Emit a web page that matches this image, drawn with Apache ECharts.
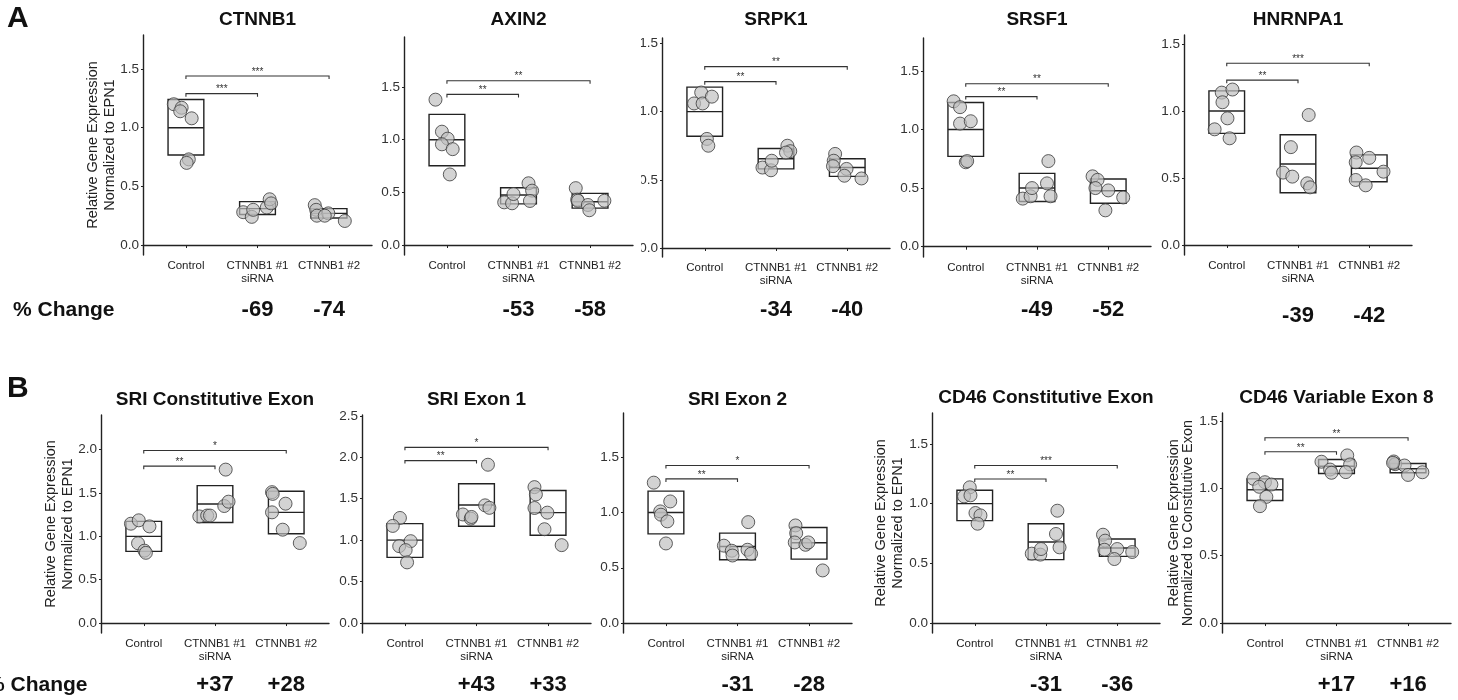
<!DOCTYPE html>
<html><head><meta charset="utf-8">
<script src="https://cdn.jsdelivr.net/npm/echarts@6/dist/echarts.min.js"></script>
<style>html,body{margin:0;padding:0;background:#fff}#c{width:1458px;height:700px}</style>
</head><body><div id="c"></div>
<script>
// ---------------- DATA ----------------
const categories = ['Control', 'CTNNB1 #1\nsiRNA', 'CTNNB1 #2'];
const panelTitles = ['CTNNB1', 'AXIN2', 'SRPK1', 'SRSF1', 'HNRNPA1',
  'SRI Constitutive Exon', 'SRI Exon 1', 'SRI Exon 2', 'CD46 Constitutive Exon', 'CD46 Variable Exon 8'];
const yNameEPN1 = 'Relative Gene Expression\nNormalized to EPN1';
const yNameConst = 'Relative Gene Expression\nNormalized to Constitutive Exon';
const yTicks15 = [0, 0.5, 1.0, 1.5];
const yTicks20 = [0, 0.5, 1.0, 1.5, 2.0];
const yTicks25 = [0, 0.5, 1.0, 1.5, 2.0, 2.5];

// per panel: values per group [Control, #1, #2], horizontal jitter per point, box [low, mid, high], significance [label, y], % change
const ctnnb1Vals = [[1.20,1.17,1.14,1.08,0.73,0.70],[0.28,0.24,0.30,0.32,0.39,0.355],[0.34,0.30,0.25,0.27,0.25,0.205]];
const ctnnb1Jit  = [[-0.17,-0.06,-0.08,0.08,0.04,0.01],[-0.2,-0.08,-0.06,0.13,0.17,0.19],[-0.2,-0.18,-0.17,-0.01,-0.06,0.22]];
const ctnnb1Box  = [[0.767,1.0,1.24],[0.26,0.31,0.37],[0.23,0.27,0.31]];
const ctnnb1Sig  = [['***',1.29],['***',1.44]];
const ctnnb1Pct  = [-69,-74];

const axin2Vals = [[1.38,1.076,1.01,0.956,0.91,0.67],[0.405,0.396,0.484,0.586,0.516,0.418],[0.54,0.43,0.42,0.38,0.33,0.42]];
const axin2Jit  = [[-0.16,-0.07,0.01,-0.07,0.08,0.04],[-0.2,-0.09,-0.07,0.14,0.19,0.16],[-0.2,-0.18,-0.17,-0.03,-0.01,0.2]];
const axin2Box  = [[0.753,1.0,1.24],[0.39,0.475,0.544],[0.35,0.41,0.49]];
const axin2Sig  = [['**',1.43],['**',1.56]];
const axin2Pct  = [-53,-58];

const srpk1Vals = [[1.06,1.14,1.06,1.11,0.80,0.75],[0.59,0.57,0.64,0.75,0.71,0.70],[0.69,0.64,0.60,0.58,0.53,0.51]];
const srpk1Jit  = [[-0.15,-0.05,-0.03,0.1,0.03,0.05],[-0.19,-0.07,-0.06,0.16,0.2,0.14],[-0.17,-0.19,-0.2,-0.01,-0.04,0.2]];
const srpk1Box  = [[0.82,1.0,1.18],[0.58,0.655,0.73],[0.525,0.59,0.655]];
const srpk1Sig  = [['**',1.22],['**',1.33]];
const srpk1Pct  = [-34,-40];

const srsf1Vals = [[1.24,1.19,1.05,1.07,0.72,0.73],[0.41,0.43,0.50,0.54,0.43,0.73],[0.60,0.57,0.50,0.48,0.42,0.31]];
const srsf1Jit  = [[-0.17,-0.08,-0.08,0.07,0.0,0.02],[-0.2,-0.09,-0.07,0.14,0.19,0.16],[-0.22,-0.15,-0.18,0.0,0.21,-0.04]];
const srsf1Box  = [[0.77,1.0,1.23],[0.385,0.50,0.625],[0.37,0.477,0.577]];
const srsf1Sig  = [['**',1.28],['**',1.39]];
const srsf1Pct  = [-49,-52];

const hnrnpa1Vals = [[1.137,1.16,1.065,0.945,0.863,0.796],[0.97,0.73,0.54,0.51,0.46,0.43],[0.69,0.617,0.65,0.547,0.485,0.445]];
const hnrnpa1Jit  = [[-0.07,0.08,-0.06,0.01,-0.17,0.04],[0.15,-0.1,-0.21,-0.08,0.13,0.17],[-0.18,-0.19,0.0,0.2,-0.19,-0.05]];
const hnrnpa1Box  = [[0.833,1.0,1.15],[0.39,0.604,0.823],[0.472,0.572,0.672]];
const hnrnpa1Sig  = [['**',1.23],['***',1.356]];
const hnrnpa1Pct  = [-39,-42];

const sriConVals = [[1.146,1.185,1.115,0.92,0.835,0.81],[1.23,1.24,1.24,1.35,1.40,1.77],[1.51,1.49,1.377,1.277,1.077,0.923]];
const sriConJit  = [[-0.18,-0.07,0.08,-0.08,0.01,0.03],[-0.22,-0.11,-0.07,0.13,0.19,0.15],[-0.2,-0.19,-0.01,-0.2,-0.05,0.19]];
const sriConBox  = [[0.827,1.0,1.173],[1.16,1.373,1.585],[1.03,1.277,1.52]];
const sriConSig  = [['**',1.81],['*',1.99]];
const sriConPct  = [37,28];

const sriEx1Vals = [[1.268,1.172,0.928,0.988,0.88,0.732],[1.31,1.26,1.28,1.42,1.39,1.91],[1.64,1.552,1.388,1.332,1.132,0.94]];
const sriEx1Jit  = [[-0.07,-0.17,-0.08,0.08,0.01,0.03],[-0.19,-0.08,-0.07,0.12,0.18,0.16],[-0.19,-0.17,-0.19,-0.01,-0.05,0.19]];
const sriEx1Box  = [[0.792,1.0,1.2],[1.168,1.424,1.68],[1.06,1.332,1.6]];
const sriEx1Sig  = [['**',1.96],['*',2.12]];
const sriEx1Pct  = [43,33];

const sriEx2Vals = [[1.27,1.10,1.01,0.98,0.92,0.72],[0.70,0.654,0.611,0.913,0.663,0.627],[0.883,0.813,0.729,0.708,0.729,0.476]];
const sriEx2Jit  = [[-0.17,0.06,-0.08,-0.07,0.02,0.0],[-0.19,-0.08,-0.07,0.15,0.14,0.19],[-0.19,-0.18,-0.2,-0.05,-0.01,0.19]];
const sriEx2Box  = [[0.807,1.0,1.193],[0.572,0.693,0.813],[0.578,0.726,0.864]];
const sriEx2Sig  = [['**',1.304],['*',1.425]];
const sriEx2Pct  = [-31,-28];

const cd46ConVals = [[1.137,1.061,1.07,0.922,0.902,0.832],[0.581,0.573,0.62,0.746,0.634,0.941],[0.74,0.69,0.614,0.62,0.536,0.595]];
const cd46ConJit  = [[-0.07,-0.15,-0.06,0.01,0.08,0.04],[-0.2,-0.08,-0.07,0.14,0.19,0.16],[-0.2,-0.17,-0.18,0.0,-0.04,0.21]];
const cd46ConBox  = [[0.858,1.0,1.112],[0.531,0.679,0.832],[0.558,0.628,0.704]];
const cd46ConSig  = [['**',1.207],['***',1.32]];
const cd46ConPct  = [-31,-36];

const cd46VarVals = [[1.071,1.046,1.012,1.029,0.937,0.868],[1.198,1.14,1.116,1.245,1.178,1.121],[1.20,1.18,1.17,1.10,1.12,1.19]];
const cd46VarJit  = [[-0.16,0.0,-0.08,0.09,0.02,-0.07],[-0.21,-0.09,-0.07,0.15,0.19,0.13],[-0.2,-0.18,-0.05,0.0,0.2,-0.21]];
const cd46VarBox  = [[0.91,0.99,1.071],[1.111,1.165,1.215],[1.116,1.146,1.185]];
const cd46VarSig  = [['**',1.272],['**',1.376]];
const cd46VarPct  = [17,16];

// ---------------- PANELS ----------------
const panels = [
  {vals: ctnnb1Vals, jit: ctnnb1Jit, box: ctnnb1Box, sig: ctnnb1Sig, pct: ctnnb1Pct, yMin: -0.085, yMax: 1.79, ticks: yTicks15, yName: yNameEPN1},
  {vals: axin2Vals, jit: axin2Jit, box: axin2Box, sig: axin2Sig, pct: axin2Pct, yMin: -0.095, yMax: 1.975, ticks: yTicks15},
  {vals: srpk1Vals, jit: srpk1Jit, box: srpk1Box, sig: srpk1Sig, pct: srpk1Pct, yMin: -0.066, yMax: 1.54, ticks: yTicks15},
  {vals: srsf1Vals, jit: srsf1Jit, box: srsf1Box, sig: srsf1Sig, pct: srsf1Pct, yMin: -0.088, yMax: 1.78, ticks: yTicks15},
  {vals: hnrnpa1Vals, jit: hnrnpa1Jit, box: hnrnpa1Box, sig: hnrnpa1Sig, pct: hnrnpa1Pct, yMin: -0.075, yMax: 1.567, ticks: yTicks15},
  {vals: sriConVals, jit: sriConJit, box: sriConBox, sig: sriConSig, pct: sriConPct, yMin: -0.115, yMax: 2.40, ticks: yTicks20, yName: yNameEPN1},
  {vals: sriEx1Vals, jit: sriEx1Jit, box: sriEx1Box, sig: sriEx1Sig, pct: sriEx1Pct, yMin: -0.12, yMax: 2.51, ticks: yTicks25},
  {vals: sriEx2Vals, jit: sriEx2Jit, box: sriEx2Box, sig: sriEx2Sig, pct: sriEx2Pct, yMin: -0.09, yMax: 1.90, ticks: yTicks15},
  {vals: cd46ConVals, jit: cd46ConJit, box: cd46ConBox, sig: cd46ConSig, pct: cd46ConPct, yMin: -0.084, yMax: 1.76, ticks: yTicks15, yName: yNameEPN1},
  {vals: cd46VarVals, jit: cd46VarJit, box: cd46VarBox, sig: cd46VarSig, pct: cd46VarPct, yMin: -0.074, yMax: 1.56, ticks: yTicks15, yName: yNameConst}
];

// ---------------- LAYOUT ----------------
const layout = [
  {left:143, top:35, width:229, height:220, titleY:20, pctOff:55, nameGap:25, nameLH:17},
  {left:404, top:37, width:229, height:218, titleY:20, pctOff:55},
  {left:662, top:38, width:228, height:219, titleY:20, pctOff:53},
  {left:923, top:38, width:228, height:219, titleY:20, pctOff:53},
  {left:1184, top:35, width:228, height:220, titleY:20, pctOff:61},
  {left:101, top:415, width:228, height:218, titleY:400, pctOff:52, nameGap:25, nameLH:17},
  {left:362, top:415, width:229, height:218, titleY:400, pctOff:52},
  {left:623, top:413, width:229, height:220, titleY:400, pctOff:52},
  {left:932, top:413, width:228, height:220, titleY:398, pctOff:52, nameGap:26, nameLH:17},
  {left:1222, top:413, width:229, height:220, titleY:398, pctOff:52, nameGap:27, nameLH:14}
];

const FONT = 'Liberation Sans, Arial, Helvetica, sans-serif';
const INK = '#222';

function renderBox(params, api) {
  const x = api.value(0);
  const pLo = api.coord([x, api.value(1)]);
  const pMid = api.coord([x, api.value(2)]);
  const pHi = api.coord([x, api.value(3)]);
  const w = api.size([0.5, 0])[0];
  const st = {stroke: INK, lineWidth: 1.4, fill: 'none'};
  return {type: 'group', children: [
    {type: 'rect', shape: {x: pLo[0] - w / 2, y: pHi[1], width: w, height: pLo[1] - pHi[1]}, style: st},
    {type: 'line', shape: {x1: pMid[0] - w / 2, y1: pMid[1], x2: pMid[0] + w / 2, y2: pMid[1]}, style: {stroke: INK, lineWidth: 1.4}}
  ]};
}

function makeBracket(labels) {
  return function (params, api) {
    const y = api.value(2);
    const p1 = api.coord([api.value(0), y]);
    const p2 = api.coord([api.value(1), y]);
    const t = 3;
    return {type: 'group', children: [
      {type: 'polyline', shape: {points: [[p1[0], p1[1] + t], [p1[0], p1[1]], [p2[0], p2[1]], [p2[0], p2[1] + t]]},
        style: {stroke: '#333', lineWidth: 1.1, fill: 'none'}},
      {type: 'text', style: {text: labels[params.dataIndex], x: (p1[0] + p2[0]) / 2, y: p1[1] + 1,
        align: 'center', verticalAlign: 'bottom', fontSize: 10, fill: '#333', fontFamily: FONT}}
    ]};
  };
}

function makePct(pct, off) {
  return function (params, api) {
    const p = api.coord([api.value(0), api.value(1)]);
    const v = pct[params.dataIndex];
    return {type: 'text', style: {text: (v > 0 ? '+' : '') + v, x: p[0], y: p[1] + off,
      align: 'center', verticalAlign: 'middle', fontSize: 22, fontWeight: 'bold', fill: '#111', fontFamily: FONT}};
  };
}

const grids = [], xAxes = [], yAxes = [], series = [], graphics = [];

panels.forEach((p, i) => {
  const L = layout[i];
  grids.push({left: L.left, top: L.top, width: L.width, height: L.height, containLabel: false, outerBoundsMode: 'none'});
  xAxes.push({
    type: 'value', gridIndex: i, min: -0.6, max: 2.6,
    splitLine: {show: false},
    axisLine: {show: true, lineStyle: {color: INK, width: 1.4}},
    axisTick: {show: true, length: 3, customValues: [0, 1, 2], lineStyle: {color: INK}},
    axisLabel: {customValues: [0, 1, 2], formatter: v => categories[Math.round(v)] || '',
      fontSize: 11.5, lineHeight: 13, color: INK, margin: 4, fontFamily: FONT}
  });
  const y = {
    type: 'value', gridIndex: i, min: p.yMin, max: p.yMax,
    splitLine: {show: false},
    axisLine: {show: true, onZero: false, lineStyle: {color: INK, width: 1.4}},
    axisTick: {show: true, length: 2, customValues: p.ticks, lineStyle: {color: INK}},
    axisLabel: {customValues: p.ticks, formatter: v => Number(v).toFixed(1), fontSize: 13.5, color: '#333', margin: 4, fontFamily: FONT}
  };
  if (p.yName) {
    Object.assign(y, {name: p.yName, nameLocation: 'middle', nameRotate: 90, nameGap: L.nameGap, nameMoveOverlap: false,
      nameTextStyle: {fontSize: 14.5, lineHeight: L.nameLH, color: INK, fontFamily: FONT, align: 'center'}});
  }
  yAxes.push(y);

  series.push({
    type: 'custom', xAxisIndex: i, yAxisIndex: i, silent: true, z: 2,
    data: p.box.map((b, k) => [k, b[0], b[1], b[2]]), renderItem: renderBox
  });
  const pts = [];
  p.vals.forEach((g, k) => g.forEach((v, m) => pts.push([k + p.jit[k][m], v])));
  series.push({
    type: 'scatter', xAxisIndex: i, yAxisIndex: i, silent: true, z: 3,
    symbol: 'circle', symbolSize: 13, data: pts,
    itemStyle: {color: 'rgba(190,190,190,0.85)', borderColor: '#3a3a3a', borderWidth: 1}
  });
  series.push({
    type: 'custom', xAxisIndex: i, yAxisIndex: i, silent: true, z: 2,
    data: p.sig.map((s, k) => [0, k + 1, s[1]]), renderItem: makeBracket(p.sig.map(s => s[0]))
  });
  series.push({
    type: 'custom', xAxisIndex: i, yAxisIndex: i, silent: true, z: 2, clip: false,
    data: p.pct.map((v, k) => [k + 1, p.yMin]), renderItem: makePct(p.pct, L.pctOff)
  });

  graphics.push({type: 'text', x: L.left + L.width / 2, y: L.titleY, silent: true,
    style: {text: panelTitles[i], align: 'center', verticalAlign: 'middle', fontSize: 19, fontWeight: 'bold', fill: '#111', fontFamily: FONT}});
});

// panel edge of SRPK1 trims the left side of its tick labels, as in the source figure
graphics.push({type: 'rect', silent: true, z: 100, shape: {x: 634, y: 30, width: 7, height: 232}, style: {fill: '#fff'}});

graphics.push({type: 'text', x: 7, y: 19, style: {text: 'A', align: 'left', verticalAlign: 'middle', fontSize: 30, fontWeight: 'bold', fill: '#111', fontFamily: FONT}});
graphics.push({type: 'text', x: 7, y: 389, style: {text: 'B', align: 'left', verticalAlign: 'middle', fontSize: 30, fontWeight: 'bold', fill: '#111', fontFamily: FONT}});
graphics.push({type: 'text', x: 13, y: 310, style: {text: '% Change', align: 'left', verticalAlign: 'middle', fontSize: 21, fontWeight: 'bold', fill: '#111', fontFamily: FONT}});
graphics.push({type: 'text', x: -14, y: 685, style: {text: '% Change', align: 'left', verticalAlign: 'middle', fontSize: 21, fontWeight: 'bold', fill: '#111', fontFamily: FONT}});

const chart = echarts.init(document.getElementById('c'), null, {renderer: 'canvas'});
chart.setOption({
  animation: false,
  backgroundColor: '#fff',
  textStyle: {fontFamily: FONT},
  grid: grids, xAxis: xAxes, yAxis: yAxes, series: series, graphic: graphics
});
</script>
</body></html>
